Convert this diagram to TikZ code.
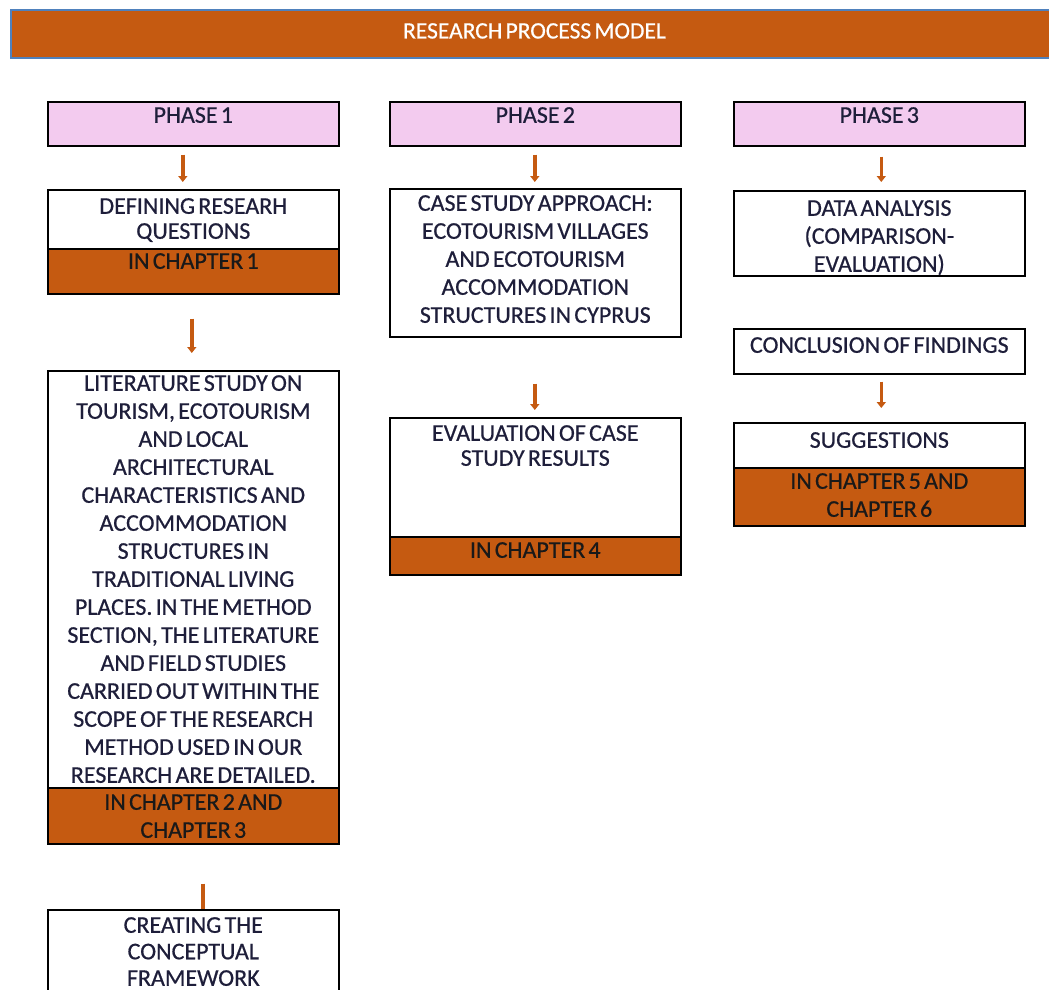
\documentclass[tikz,border=0pt]{standalone}
\usepackage{fontspec}
\setmainfont{Carlito}[WordSpace=0.6,FakeBold=0.6]
\usetikzlibrary{arrows.meta,positioning}
\definecolor{rust}{HTML}{C55A11}
\definecolor{lilac}{HTML}{F3CBEF}
\definecolor{edgeblue}{HTML}{4F81BD}
\definecolor{ink}{HTML}{1E1E3A}

\begin{document}
\begin{tikzpicture}[x=1pt,y=-1pt,
    box/.style={draw=black, line width=1.6pt, anchor=north west, minimum width=291pt, inner sep=0pt, fill=white},
    phasebox/.style={box, fill=lilac, minimum height=44pt},
    chapbox/.style={box, fill=rust},
    txt/.style={anchor=north, align=center, inner sep=0pt, text=ink, font=\fontsize{24}{28}\selectfont},
    chaptxt/.style={txt, text=black!90},
    arr/.style={draw=rust, line width=3.5pt, -{Triangle[width=9pt,length=6pt]}},
    stub/.style={draw=rust, line width=3.5pt}]

      \clip (0,0) rectangle (1049,989);
      \fill[white] (0,0) rectangle (1049,989);

      % title bar running off the right edge
      \node[draw=edgeblue, line width=2pt, fill=rust, anchor=north west, minimum width=1060pt, minimum height=48pt, inner sep=0pt] (title) at (10,9) {};
      \node[txt, text=white, font=\fontsize{23.5}{28}\selectfont] (titletxt) at (534.5,23) {RESEARCH PROCESS MODEL};

      % 3 phase boxes in a row
      \foreach \n/\x in {1/47,2/389,3/733} {
        \node[phasebox] (p\n) at (\x,101) {};
        \node[txt, yshift=-6pt] (p\n txt) at (p\n.north) {PHASE \n};
      }

      % phase 1
      \node[box, minimum height=59pt] (q1) at (47,189) {};
      \node[chapbox, minimum height=45pt] (q1ch) at (47,248) {};
      \node[txt, font=\fontsize{24}{25}\selectfont, yshift=-9pt] (q1txt) at (q1.north) {DEFINING RESEARH\\QUESTIONS};
      \node[chaptxt, yshift=-5pt] (q1chtxt) at (q1ch.north) {IN CHAPTER 1};

      \node[box, minimum height=417pt] (lit) at (47,370) {};
      \node[chapbox, minimum height=56pt] (litch) at (47,787) {};
      \node[txt, yshift=-5pt] (littxt) at (lit.north) {LITERATURE STUDY ON\\TOURISM, ECOTOURISM\\AND LOCAL\\ARCHITECTURAL\\CHARACTERISTICS AND\\ACCOMMODATION\\STRUCTURES IN\\TRADITIONAL LIVING\\PLACES. IN THE METHOD\\SECTION, THE LITERATURE\\AND FIELD STUDIES\\CARRIED OUT WITHIN THE\\SCOPE OF THE RESEARCH\\METHOD USED IN OUR\\RESEARCH ARE DETAILED.};
      \node[chaptxt, yshift=-7pt] (litchtxt) at (litch.north) {IN CHAPTER 2 AND\\CHAPTER 3};

      \node[box, minimum height=101pt] (frame) at (47,909) {};
      \node[txt, font=\fontsize{24}{26.5}\selectfont, yshift=-8pt] (frametxt) at (frame.north) {CREATING THE\\CONCEPTUAL\\FRAMEWORK};

      % phase 2
      \node[box, minimum height=148pt] (case) at (389,188) {};
      \node[txt, yshift=-7pt] (casetxt) at (case.north) {CASE STUDY APPROACH:\\ECOTOURISM VILLAGES\\AND ECOTOURISM\\ACCOMMODATION\\STRUCTURES IN CYPRUS};

      \node[box, minimum height=119pt] (eval) at (389,417) {};
      \node[chapbox, minimum height=38pt] (evalch) at (389,536) {};
      \node[txt, font=\fontsize{24}{25}\selectfont, yshift=-8pt] (evaltxt) at (eval.north) {EVALUATION OF CASE\\STUDY RESULTS};
      \node[chaptxt, yshift=-6pt] (evalchtxt) at (evalch.north) {IN CHAPTER 4};

      % phase 3
      \node[box, minimum height=85pt] (data) at (733,190) {};
      \node[txt, yshift=-10pt] (datatxt) at (data.north) {DATA ANALYSIS\\(COMPARISON-\\EVALUATION)};

      \node[box, minimum height=45pt] (concl) at (733,328) {};
      \node[txt, yshift=-9pt] (concltxt) at (concl.north) {CONCLUSION OF FINDINGS};

      \node[box, minimum height=45pt] (sugg) at (733,422) {};
      \node[chapbox, minimum height=58pt] (suggch) at (733,467) {};
      \node[txt, yshift=-10pt] (suggtxt) at (sugg.north) {SUGGESTIONS};
      \node[chaptxt, yshift=-6pt] (suggchtxt) at (suggch.north) {IN CHAPTER 5 AND\\CHAPTER 6};

      % short orange arrows
      \draw[arr, shorten <=8pt, shorten >=7pt] ([xshift=-10.5pt]p1.south) -- ([xshift=-10.5pt]q1.north);
      \draw[arr, shorten <=24pt, shorten >=17pt] ([xshift=-1.5pt]q1ch.south) -- ([xshift=-1.5pt]lit.north);
      \draw[stub, shorten <=39pt] ([xshift=9.5pt]litch.south) -- ([xshift=9.5pt]frame.north);

      \draw[arr, shorten <=8pt, shorten >=6pt] ([xshift=-0.5pt]p2.south) -- ([xshift=-0.5pt]case.north);
      \draw[arr, shorten <=46pt, shorten >=7pt] ([xshift=-0.5pt]case.south) -- ([xshift=-0.5pt]eval.north);

      \draw[arr, shorten <=10pt, shorten >=8pt] ([xshift=2pt]p3.south) -- ([xshift=2pt]data.north);
      \draw[arr, shorten <=7pt, shorten >=14pt] ([xshift=2pt]concl.south) -- ([xshift=2pt]sugg.north);

\end{tikzpicture}
\end{document}
